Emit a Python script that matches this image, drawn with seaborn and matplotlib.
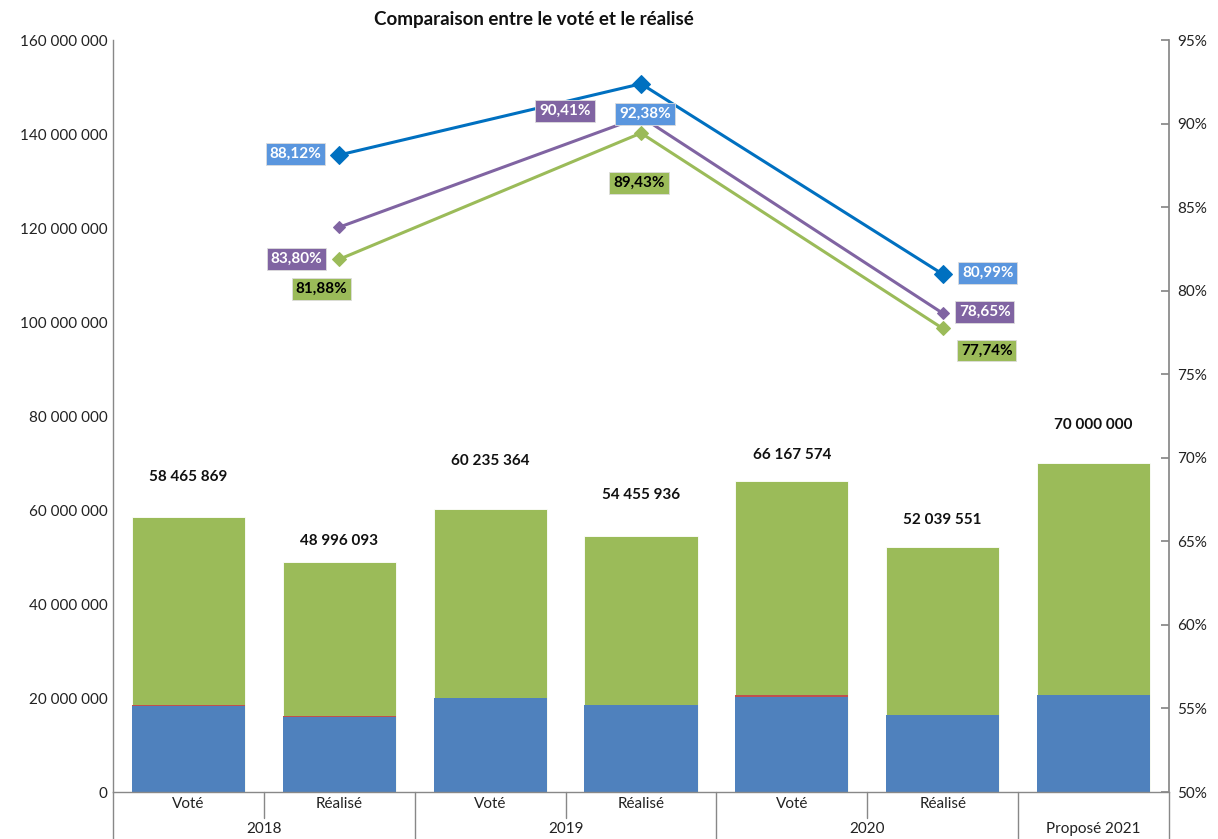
import matplotlib
matplotlib.use("Agg")
import matplotlib.pyplot as plt
import seaborn as sns
import pandas as pd
import numpy as np
from matplotlib.ticker import FuncFormatter, MultipleLocator

# ---------------- data ----------------
sub_labels = ["Voté", "Réalisé", "Voté", "Réalisé", "Voté", "Réalisé", ""]
groups = ["2018", "2019", "2020", "Proposé 2021"]
group_spans = [(0, 1), (2, 3), (4, 5), (6, 6)]
totals = [58465869, 48996093, 60235364, 54455936, 66167574, 52039551, 70000000]
blue_part = [18200000, 16000000, 20100000, 18600000, 20300000, 16400000, 20700000]
red_part = [300000, 250000, 0, 0, 300000, 0, 0]

line_x = [1, 3, 5]
blue_rate = [88.12, 92.38, 80.99]
purple_rate = [83.80, 90.41, 78.65]
green_rate = [81.88, 89.43, 77.74]

# ---------------- style ----------------
sns.set_theme(style="white")
plt.rcParams["font.family"] = ["Lato", "DejaVu Sans"]

C_BLUE = "#4F81BD"
C_RED = "#C0504D"
C_GREEN = "#9BBB59"
L_BLUE = "#0070C0"
L_PURPLE = "#8064A2"
L_GREEN = "#9BBB59"
GRAY = "#888888"
FS = 11

fig = plt.figure(figsize=(12.18, 8.39), dpi=100)
ax = fig.add_axes([113/1218, 1-792/839, (1169-113)/1218, (792-40)/839])

pos = list(range(len(totals)))
df = pd.DataFrame({
    "pos": pos,
    "total": totals,
    "blue_red": [b + r for b, r in zip(blue_part, red_part)],
    "blue": blue_part,
})

bw = 0.75
sns.barplot(data=df, x="pos", y="total", color=C_GREEN, saturation=1, width=bw,
            ax=ax, native_scale=True, edgecolor="white", linewidth=0.6)
sns.barplot(data=df, x="pos", y="blue_red", color=C_RED, saturation=1, width=bw,
            ax=ax, native_scale=True, linewidth=0)
sns.barplot(data=df, x="pos", y="blue", color=C_BLUE, saturation=1, width=bw,
            ax=ax, native_scale=True, linewidth=0)

ax.set_xlim(-0.5, len(totals) - 0.5)
ax.set_ylim(0, 160000000)
ax.yaxis.set_major_locator(MultipleLocator(20000000))
ax.yaxis.set_major_formatter(FuncFormatter(lambda v, p: f"{int(v):,}".replace(",", " ")))
ax.set_xlabel("")
ax.set_ylabel("")
ax.set_xticks([])
ax.tick_params(axis="y", length=0, labelsize=FS, pad=4, colors="#222222")
for s in ["top", "right"]:
    ax.spines[s].set_visible(False)
for s in ["left", "bottom"]:
    ax.spines[s].set_color(GRAY)
    ax.spines[s].set_linewidth(1)

# value labels above bars (offsets in pixels)
label_off = [40, 21, 48, 41, 26, 27, 38]
for i, (t, off) in enumerate(zip(totals, label_off)):
    ax.annotate(f"{t:,}".replace(",", " "), (i, t), xytext=(0, off),
                textcoords="offset pixels", ha="center", va="center",
                fontsize=FS, fontweight="bold", color="#111111")

# category labels and separators
xt = ax.get_xaxis_transform()
h_ax = 752.0
for i, lab in enumerate(sub_labels):
    if lab:
        ax.text(i, -12/h_ax, lab, transform=xt, ha="center", va="center",
                fontsize=FS, color="#222222")
for g, (a, b) in zip(groups, group_spans):
    ax.text((a + b) / 2, -37/h_ax, g, transform=xt, ha="center", va="center",
            fontsize=FS, color="#222222")
for xb in [-0.5, 1.5, 3.5, 5.5, 6.5]:
    ax.plot([xb, xb], [0, -50/h_ax], transform=xt, color=GRAY, lw=1, clip_on=False)
for xb in [0.5, 2.5, 4.5]:
    ax.plot([xb, xb], [0, -26/h_ax], transform=xt, color=GRAY, lw=1, clip_on=False)

# ---------------- secondary axis: rates ----------------
ax2 = ax.twinx()
ax2.set_ylim(50, 95)
ax2.yaxis.set_major_locator(MultipleLocator(5))
ax2.yaxis.set_major_formatter(FuncFormatter(lambda v, p: f"{int(v)}%"))
ax2.tick_params(axis="y", direction="in", length=6, color=GRAY, labelsize=FS,
                pad=6, labelcolor="#222222")
for s in ["top", "left", "bottom"]:
    ax2.spines[s].set_visible(False)
ax2.spines["right"].set_color(GRAY)
ax2.grid(False)
ax.grid(False)

# label offsets in pixels relative to each point (x right, y up)
series = [
    (blue_rate, L_BLUE, "#5A96DE", "white", [(-44, 1), (4, -30), (45, 1)], 9),
    (purple_rate, L_PURPLE, L_PURPLE, "white", [(-43, -32), (-76, 6), (42, 1)], 6.5),
    (green_rate, L_GREEN, L_GREEN, "black", [(-18, -30), (-2, -50), (44, -22)], 7.5),
]
for vals, lc, bg, fg, offs, ms in series:
    ldf = pd.DataFrame({"x": line_x, "y": vals})
    sns.lineplot(data=ldf, x="x", y="y", ax=ax2, color=lc, lw=2.2, marker="D",
                 markersize=ms, markeredgecolor=lc, estimator=None, sort=False)
    for xv, yv, (dx, dy) in zip(line_x, vals, offs):
        ax2.annotate(f"{yv:.2f}%".replace(".", ","), (xv, yv), xytext=(dx, dy),
                     textcoords="offset pixels", ha="center", va="center",
                     fontsize=FS, fontweight="bold", color=fg,
                     bbox=dict(boxstyle="square,pad=0.25", fc=bg, ec="#DDDDDD", lw=0.6))
ax2.set_xlabel("")
ax2.set_ylabel("")
ax2.set_xlim(-0.5, len(totals) - 0.5)

fig.text(534/1218, 1-20/839, "Comparaison entre le voté et le réalisé",
         ha="center", va="center", fontsize=13.5, fontweight="bold", color="#111111")

fig.savefig("out.png", dpi=100, facecolor="white")
